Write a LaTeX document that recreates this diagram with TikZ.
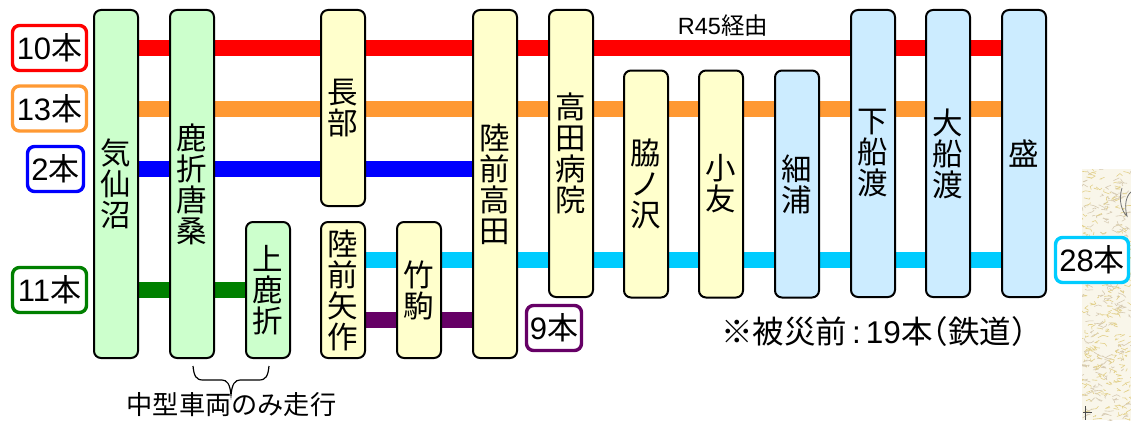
\documentclass[tikz,border=0pt]{standalone}
\usepackage{fontspec}
\setmainfont{Noto Sans CJK JP}
\newfontfamily\lat{Liberation Sans}
\usetikzlibrary{backgrounds}
\definecolor{stG}{HTML}{CCFFCC}
\definecolor{stY}{HTML}{FFFFCC}
\definecolor{stB}{HTML}{CCECFF}
\definecolor{lnO}{HTML}{FF9933}
\definecolor{lnC}{HTML}{00CCFF}
\definecolor{lnP}{HTML}{660066}
\definecolor{lnG}{HTML}{008000}
\definecolor{mapbg}{HTML}{F9F6EA}
\definecolor{mapa}{HTML}{E2D08A}
\definecolor{mapb}{HTML}{D6CAB2}
\tikzset{
  stn/.style={draw=black,line width=2pt,rounded corners=7pt,minimum width=44pt,inner sep=0pt,align=center,
    font=\fontsize{30.5}{31}\selectfont},
  green stn/.style={stn,fill=stG},
  yellow stn/.style={stn,fill=stY},
  blue stn/.style={stn,fill=stB},
  count/.style={draw=#1,fill=white,line width=3.4pt,rounded corners=7pt,inner sep=0pt,minimum height=45pt,
    font=\fontsize{31}{33}\selectfont},
  band/.style={draw=#1,line width=16pt},
  note/.style={inner sep=0pt,text=black}
}
\newcommand{\num}[3]{\raisebox{1.5pt}{{\lat #1}#2}\hspace{#3}}
\begin{document}
\begin{tikzpicture}[x=1pt,y=-1pt]
\useasboundingbox (0,0) rectangle (1131,420);
% stations
\node[green stn,minimum height=348pt] (kes) at (116,184) {気\\仙\\沼};
\node[green stn,minimum height=348pt] (shi) at (192,184) {鹿\\折\\唐\\桑};
\node[green stn,minimum height=136pt] (kam) at (268,290) {上\\鹿\\折};
\node[yellow stn,minimum height=196pt] (osa) at (343,108) {長\\部};
\node[yellow stn,minimum height=136pt] (yah) at (343,290) {陸\\前\\矢\\作};
\node[yellow stn,minimum height=136pt] (tak) at (419,290) {竹\\駒};
\node[yellow stn,minimum height=348pt] (rik) at (495,184) {陸\\前\\高\\田};
\node[yellow stn,minimum height=287pt] (hos) at (571,153.5) {高\\田\\病\\院};
\node[yellow stn,minimum height=227pt] (wak) at (646,184) {脇\\ノ\\沢};
\node[yellow stn,minimum height=227pt] (oto) at (721,184) {小\\友};
\node[blue stn,minimum height=227pt] (hso) at (797,184) {細\\浦};
\node[blue stn,minimum height=287pt] (shm) at (873,153.5) {下\\船\\渡};
\node[blue stn,minimum height=287pt] (ofu) at (948,153.5) {大\\船\\渡};
\node[blue stn,minimum height=287pt] (mor) at (1024,153.5) {盛};
% counts
\node[count=red,minimum width=74pt] (c10) at (49.5,48) {\num{10}{本}{4pt}};
\node[count=lnO,minimum width=74pt] (c13) at (49.5,108.5) {\num{13}{本}{4pt}};
\node[count=blue,minimum width=56pt] (c2) at (55.5,169) {\num{2}{本}{4pt}};
\node[count=lnG,minimum width=74pt] (c11) at (49.5,290) {\num{11}{本}{4pt}};
\node[count=lnP,minimum width=55pt] (c9) at (554,328) {\num{9}{本}{2pt}};
\node[count=lnC,minimum width=73pt] (c28) at (1092,260) {\num{28}{本}{0pt}};
% texts
\node[note,font=\fontsize{23.5}{25}\selectfont] (r45) at (723,26) {{\lat R45}経由};
\node[note,font=\fontsize{31.5}{33}\selectfont] (prev) at (882,332) {※被災前\hspace{5pt}{\lat :}\hspace{5pt}{\lat 19}本\hspace{-.5em}（鉄道）\hspace{-.5em}};
\node[note,font=\fontsize{26.2}{28}\selectfont] (mid) at (231.5,405) {中型車両のみ走行};
% brace
\draw[line width=1.2pt] (193,366) .. controls (194,376) and (196,380) .. (203,380) -- (222,380)
  .. controls (227,380) and (230,384) .. (231,395) .. controls (232,384) and (235,380) .. (240,380)
  -- (259,380) .. controls (266,380) and (268,376) .. (269,366);
\begin{scope}[on background layer]
  % map fragment
  \fill[mapbg] (1082,169) rectangle (1131,420);
  \begin{scope}
    \clip (1082,169) rectangle (1131,420);
    \pgfmathsetseed{4711}
    \foreach \i in {1,...,420}{
      \pgfmathsetmacro{\xa}{1080+51*rnd}
      \pgfmathsetmacro{\ya}{169+251*rnd}
      \pgfmathsetmacro{\dxa}{-6+12*rnd}
      \pgfmathsetmacro{\dya}{-3+6*rnd}
      \pgfmathsetmacro{\dxb}{-6+12*rnd}
      \pgfmathsetmacro{\dyb}{-3+6*rnd}
      \pgfmathsetmacro{\pick}{rnd}
      \ifdim\pick pt<0.55pt\def\mc{mapa}\else\def\mc{mapb}\fi
      \draw[\mc,line width=.6pt,line join=round] (\xa,\ya) -- ++(\dxa,\dya) -- ++(\dxb,\dyb);
    }
    \draw[black!55,line width=.8pt] (1122,188) .. controls (1118,200) and (1122,212) .. (1127,216) .. controls (1124,206) and (1126,196) .. (1131,192);
    \draw[black!70,line width=.7pt] (1083,412) -- (1092,412) (1085,406) -- (1085,420);
  \end{scope}
  % service bands
  \draw[band=red] (kes.center |- c10) -- (mor.center |- c10);
  \draw[band=lnO] (kes.center |- c13) -- (mor.center |- c13);
  \draw[band=blue] (kes.center |- c2) -- (rik.center |- c2);
  \draw[band=lnG] (kes.center |- c11) -- (kam.center |- c11);
  \draw[band=lnC] (yah.center |- c28) -- (mor.center |- c28);
  \coordinate (py) at (0,320);
  \draw[band=lnP] (yah.center |- py) -- (rik.center |- py);
\end{scope}
\end{tikzpicture}
\end{document}
